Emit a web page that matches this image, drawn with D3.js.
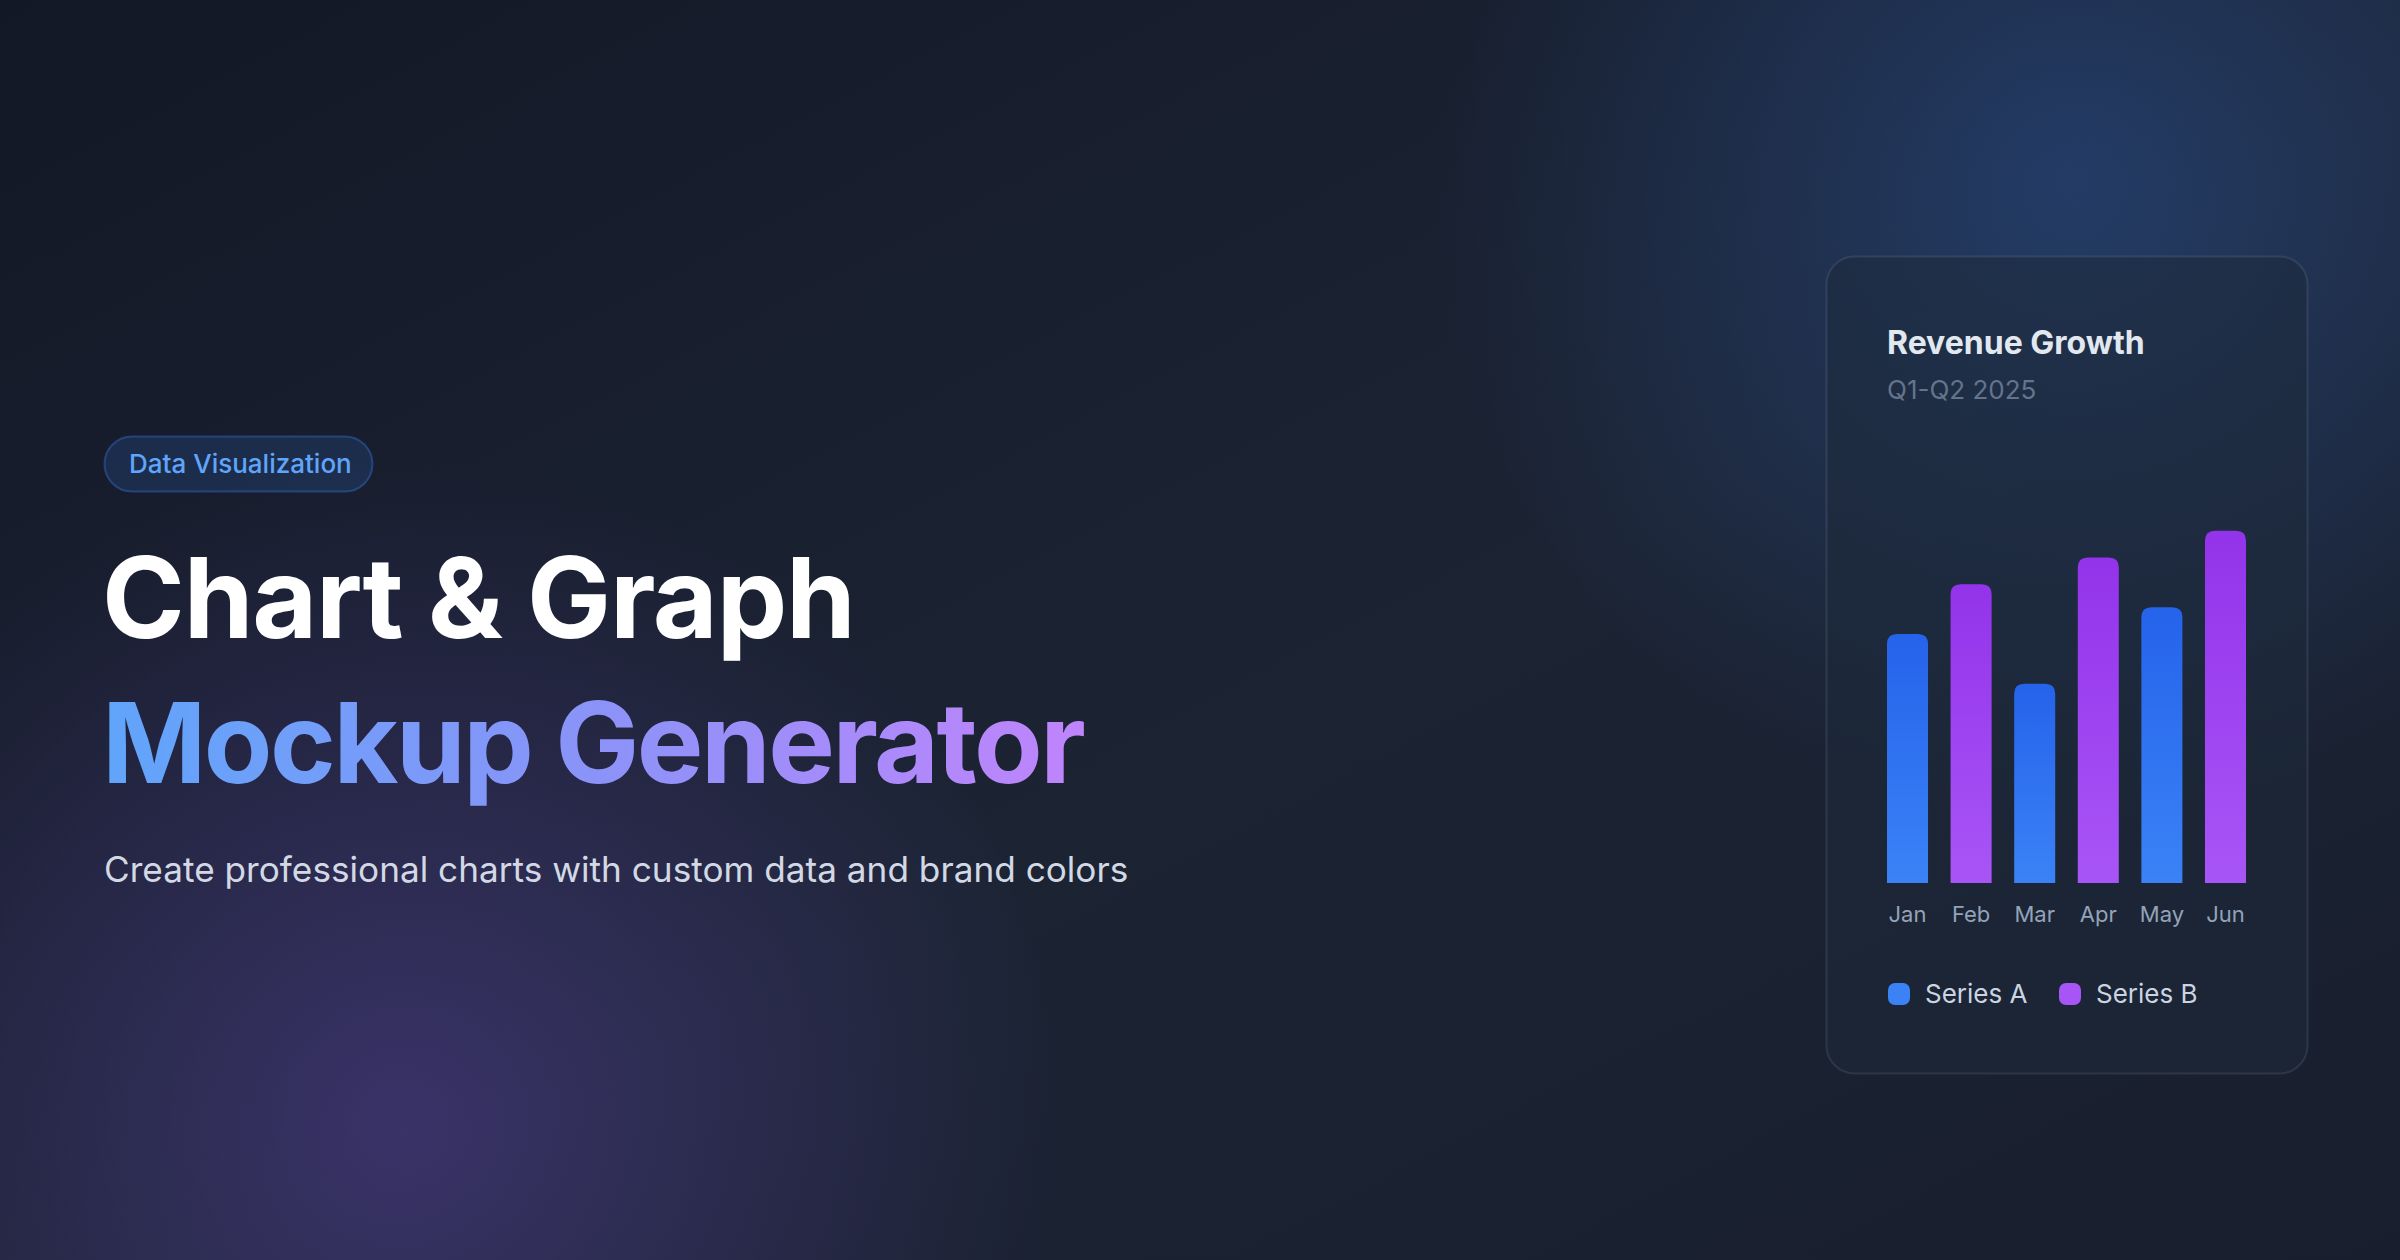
<!DOCTYPE html>
<html>
<head>
<meta charset="utf-8">
<script src="https://cdn.jsdelivr.net/npm/d3@7"></script>
<style>
html, body { margin: 0; padding: 0; background: #151b2a; overflow: hidden; }
svg { display: block; font-family: Inter, "Noto Sans", sans-serif; }
</style>
</head>
<body>
<div class="container"></div>
<script>
const wd = 2400
const ht = 1260

// chart data
const months = ["Jan", "Feb", "Mar", "Apr", "May", "Jun"]
const values = [65, 78, 52, 85, 72, 92]
const seriesOf = ["A", "B", "A", "B", "A", "B"]
const seriesNames = ["Series A", "Series B"]
const yTicks = [0, 100]

// text
const badgeText = "Data Visualization"
const titleLine1 = "Chart & Graph"
const titleLine2 = "Mockup Generator"
const tagline = "Create professional charts with custom data and brand colors"
const cardTitle = "Revenue Growth"
const cardSub = "Q1-Q2 2025"

const svgC = d3.select(".container")
.append("svg")
.attr("width", wd)
.attr("height", ht)
.attr("viewBox", "0 0 " + wd + " " + ht)

const defs = svgC.append("defs")

// background gradients
const bgLin = defs.append("linearGradient").attr("id", "bgLin")
.attr("x1", 0).attr("y1", 0).attr("x2", 1).attr("y2", 1)
bgLin.append("stop").attr("offset", "0%").attr("stop-color", "#131826")
bgLin.append("stop").attr("offset", "55%").attr("stop-color", "#1c2434")
bgLin.append("stop").attr("offset", "100%").attr("stop-color", "#181e2d")

const glowBlue = defs.append("radialGradient").attr("id", "glowBlue")
.attr("gradientUnits", "userSpaceOnUse")
.attr("cx", 2070).attr("cy", 180).attr("r", 640)
glowBlue.append("stop").attr("offset", "0%").attr("stop-color", "#3b82f6").attr("stop-opacity", 0.26)
glowBlue.append("stop").attr("offset", "100%").attr("stop-color", "#3b82f6").attr("stop-opacity", 0)

const glowPurple = defs.append("radialGradient").attr("id", "glowPurple")
.attr("gradientUnits", "userSpaceOnUse")
.attr("cx", 400).attr("cy", 1120).attr("r", 660)
glowPurple.append("stop").attr("offset", "0%").attr("stop-color", "#8b5cf6").attr("stop-opacity", 0.27)
glowPurple.append("stop").attr("offset", "100%").attr("stop-color", "#8b5cf6").attr("stop-opacity", 0)

svgC.append("rect").attr("width", wd).attr("height", ht).attr("fill", "url(#bgLin)")
svgC.append("rect").attr("width", wd).attr("height", ht).attr("fill", "url(#glowBlue)")
svgC.append("rect").attr("width", wd).attr("height", ht).attr("fill", "url(#glowPurple)")

// title gradient
const titleGrad = defs.append("linearGradient").attr("id", "titleGrad")
.attr("gradientUnits", "userSpaceOnUse")
.attr("x1", 104).attr("y1", 0).attr("x2", 1084).attr("y2", 0)
titleGrad.append("stop").attr("offset", "0%").attr("stop-color", "#60a5fa")
titleGrad.append("stop").attr("offset", "50%").attr("stop-color", "#8b93f8")
titleGrad.append("stop").attr("offset", "100%").attr("stop-color", "#c084fc")

// bar gradients
const barColors = {
  A: ["#2563eb", "#3b82f6"],
  B: ["#9333ea", "#a855f7"]
}
Object.keys(barColors).forEach((k)=> {
  const g = defs.append("linearGradient").attr("id", "bar" + k)
  .attr("x1", 0).attr("y1", 0).attr("x2", 0).attr("y2", 1)
  g.append("stop").attr("offset", "0%").attr("stop-color", barColors[k][0])
  g.append("stop").attr("offset", "100%").attr("stop-color", barColors[k][1])
})

// left side text
const left = svgC.append("g")

left.append("rect")
.attr("x", 104.5).attr("y", 436.5)
.attr("width", 268).attr("height", 55)
.attr("rx", 27.5)
.attr("fill", "rgba(59,130,246,0.16)")
.attr("stroke", "rgba(59,130,246,0.35)")
.attr("stroke-width", 2)

left.append("text")
.attr("x", 129).attr("y", 473)
.attr("font-size", 26)
.attr("font-weight", 500)
.attr("fill", "#60a5fa")
.text(badgeText)

left.append("text")
.attr("x", 102).attr("y", 638)
.attr("font-size", 112)
.attr("font-weight", 700)
.attr("letter-spacing", -1.2)
.attr("fill", "#ffffff")
.text(titleLine1)

left.append("text")
.attr("x", 102).attr("y", 783)
.attr("font-size", 112)
.attr("font-weight", 700)
.attr("letter-spacing", -2.5)
.attr("fill", "url(#titleGrad)")
.text(titleLine2)

left.append("text")
.attr("x", 104).attr("y", 882)
.attr("font-size", 35.2)
.attr("font-weight", 400)
.attr("fill", "#d3d9e4")
.text(tagline)

// card
const card = svgC.append("g")

card.append("rect")
.attr("x", 1826.5).attr("y", 256.5)
.attr("width", 481).attr("height", 817)
.attr("rx", 28)
.attr("fill", "rgba(30,41,59,0.55)")
.attr("stroke", "rgba(148,163,184,0.16)")
.attr("stroke-width", 2)

card.append("text")
.attr("x", 1887).attr("y", 354)
.attr("font-size", 32)
.attr("font-weight", 700)
.attr("fill", "#e2e8f0")
.text(cardTitle)

card.append("text")
.attr("x", 1887).attr("y", 399)
.attr("font-size", 26)
.attr("fill", "#64748b")
.text(cardSub)

// scales
const x = d3.scaleBand()
.domain(months)
.range([1887, 2246])
.paddingInner(0.355)
.paddingOuter(0)

const y = d3.scaleLinear()
.domain(d3.extent(yTicks))
.range([883, 500])

const rTop = 10
function barPath(x0, w, yTop, yBase) {
  const r = Math.min(rTop, w / 2, yBase - yTop)
  return "M" + x0 + "," + yBase +
    "V" + (yTop + r) +
    "Q" + x0 + "," + yTop + " " + (x0 + r) + "," + yTop +
    "H" + (x0 + w - r) +
    "Q" + (x0 + w) + "," + yTop + " " + (x0 + w) + "," + (yTop + r) +
    "V" + yBase + "Z"
}

const bars = months.map((m, i)=> { return {month: m, value: values[i], series: seriesOf[i]} })

card.append("g").selectAll("path")
.data(bars)
.join("path")
.attr("d", (d)=> barPath(x(d.month), x.bandwidth(), y(d.value), y(0)))
.attr("fill", (d)=> "url(#bar" + d.series + ")")

// month axis
const xAxis = card.append("g")
.attr("transform", "translate(0," + y(0) + ")")
.call(d3.axisBottom(x).tickSize(0).tickPadding(39))
xAxis.select(".domain").remove()
xAxis.selectAll("text")
.attr("font-family", "Inter, sans-serif")
.attr("font-size", 22)
.attr("fill", "#94a3b8")
.attr("dy", 0)

// legend
const legendX = [1888, 2059]
const legend = card.append("g").selectAll("g")
.data(seriesNames)
.join("g")
.attr("transform", (d, i)=> "translate(" + legendX[i] + ",983)")

legend.append("rect")
.attr("width", 22).attr("height", 22).attr("rx", 7)
.attr("fill", (d, i)=> i == 0 ? "#3b82f6" : "#a855f7")

legend.append("text")
.attr("x", 37).attr("y", 20)
.attr("font-size", 26)
.attr("fill", "#cbd5e1")
.text((d)=> d)
</script>
</body>
</html>
